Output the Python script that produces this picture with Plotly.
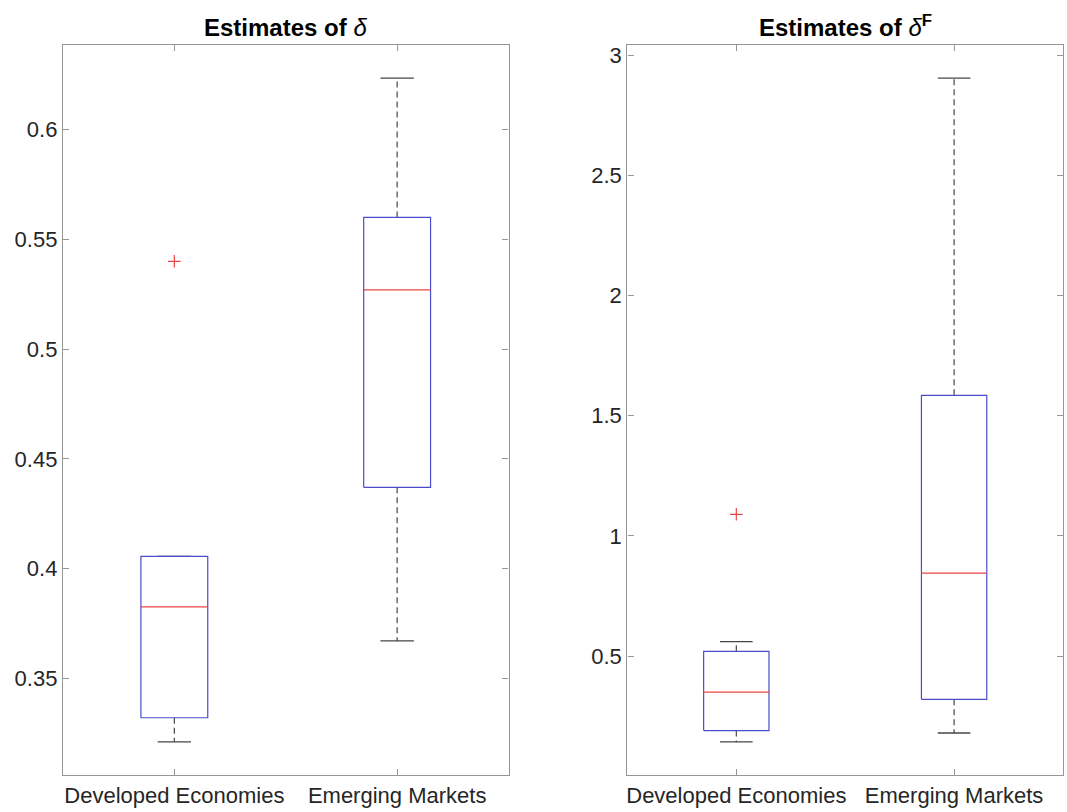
import plotly.graph_objects as go

# ---------------- data ----------------
categories = ["Developed Economies", "Emerging Markets"]

delta_lower_whisker = [0.321, 0.367]
delta_q1 = [0.332, 0.437]
delta_median = [0.3825, 0.527]
delta_q3 = [0.4055, 0.560]
delta_upper_whisker = [0.4055, 0.6235]
delta_outliers = [[0.540], []]

deltaF_lower_whisker = [0.143, 0.180]
deltaF_q1 = [0.190, 0.320]
deltaF_median = [0.350, 0.845]
deltaF_q3 = [0.520, 1.585]
deltaF_upper_whisker = [0.560, 2.905]
deltaF_outliers = [[1.09], []]

delta_ticks = [0.35, 0.4, 0.45, 0.5, 0.55, 0.6]
delta_ticktext = ["0.35", "0.4", "0.45", "0.5", "0.55", "0.6"]
deltaF_ticks = [0.5, 1, 1.5, 2, 2.5, 3]
deltaF_ticktext = ["0.5", "1", "1.5", "2", "2.5", "3"]

# ---------------- style ----------------
BOX_HALF = 0.15
CAP_HALF = 0.075
BLUE = "rgb(75,75,205)"
RED = "rgb(235,70,70)"
WHISK = "rgb(70,70,70)"
AXIS = "rgb(150,150,150)"
TXT = "rgb(38,38,38)"
FONT = "Liberation Sans, Arial, Helvetica, sans-serif"

fig = go.Figure()


def add_panel(xa, ya, lw, q1, med, q3, uw, outl):
    pos = list(range(1, len(categories) + 1))
    bx, by, mx, my, wx, wy, cx, cy, ox, oy = [], [], [], [], [], [], [], [], [], []
    for i, c in enumerate(pos):
        bx += [c - BOX_HALF, c + BOX_HALF, c + BOX_HALF, c - BOX_HALF, c - BOX_HALF, None]
        by += [q1[i], q1[i], q3[i], q3[i], q1[i], None]
        mx += [c - BOX_HALF, c + BOX_HALF, None]
        my += [med[i], med[i], None]
        wx += [c, c, None, c, c, None]
        wy += [q3[i], uw[i], None, q1[i], lw[i], None]
        cx += [c - CAP_HALF, c + CAP_HALF, None, c - CAP_HALF, c + CAP_HALF, None]
        cy += [uw[i], uw[i], None, lw[i], lw[i], None]
        for v in outl[i]:
            ox.append(c)
            oy.append(v)
    common = dict(xaxis=xa, yaxis=ya, showlegend=False, hoverinfo="skip", mode="lines")
    fig.add_trace(go.Scatter(x=wx, y=wy, line=dict(color=WHISK, width=1.2, dash="6px,4px"), **common))
    fig.add_trace(go.Scatter(x=cx, y=cy, line=dict(color=WHISK, width=1.3), **common))
    fig.add_trace(go.Scatter(x=bx, y=by, line=dict(color=BLUE, width=1.2), **common))
    fig.add_trace(go.Scatter(x=mx, y=my, line=dict(color=RED, width=1.3), **common))
    fig.add_trace(go.Scatter(x=ox, y=oy, mode="markers", xaxis=xa, yaxis=ya, showlegend=False,
                             hoverinfo="skip",
                             marker=dict(symbol="cross-thin", size=9, line=dict(color=RED, width=1.2))))
    allv = lw + uw + [v for o in outl for v in o]
    lo, hi = min(allv), max(allv)
    pad = 0.05 * (hi - lo)
    return [lo - pad, hi + pad]


r1 = add_panel("x", "y", delta_lower_whisker, delta_q1, delta_median, delta_q3,
               delta_upper_whisker, delta_outliers)
r2 = add_panel("x2", "y2", deltaF_lower_whisker, deltaF_q1, deltaF_median, deltaF_q3,
               deltaF_upper_whisker, deltaF_outliers)

y_dom = [1 - 775 / 812, 1 - 43 / 812]
xcommon = dict(range=[0.5, 2.5], tickvals=[1, 2], ticktext=categories, ticks="inside",
               ticklen=6, tickcolor=AXIS, showline=True, linecolor=AXIS, linewidth=1.3,
               mirror="ticks", showgrid=False, zeroline=False,
               tickfont=dict(family=FONT, size=22, color=TXT))
ycommon = dict(ticks="inside", ticklen=6, tickcolor=AXIS, showline=True, linecolor=AXIS,
               linewidth=1.3, mirror="ticks", showgrid=False, zeroline=False,
               tickfont=dict(family=FONT, size=22, color=TXT))

fig.update_layout(
    width=1067, height=812,
    margin=dict(l=0, r=0, t=0, b=0),
    paper_bgcolor="white", plot_bgcolor="white",
    xaxis=dict(domain=[62 / 1067, 508 / 1067], anchor="y", **xcommon),
    yaxis=dict(domain=y_dom, anchor="x", range=r1, tickvals=delta_ticks,
               ticktext=delta_ticktext, **ycommon),
    xaxis2=dict(domain=[627 / 1067, 1063 / 1067], anchor="y2", **xcommon),
    yaxis2=dict(domain=y_dom, anchor="x2", range=r2, tickvals=deltaF_ticks,
                ticktext=deltaF_ticktext, **ycommon),
    annotations=[
        dict(text="<b>Estimates of </b><i>δ</i>", xref="paper", yref="paper",
             x=(62 + 508) / 2 / 1067, y=1 - 41 / 812, xanchor="center", yanchor="bottom",
             showarrow=False, font=dict(family=FONT, size=24, color="black")),
        dict(text="<b>Estimates of </b><i>δ</i><b><sup>F</sup></b>", xref="paper", yref="paper",
             x=(627 + 1063) / 2 / 1067, y=1 - 41 / 812, xanchor="center", yanchor="bottom",
             showarrow=False, font=dict(family=FONT, size=24, color="black")),
    ],
)

fig.write_html("out.html")
